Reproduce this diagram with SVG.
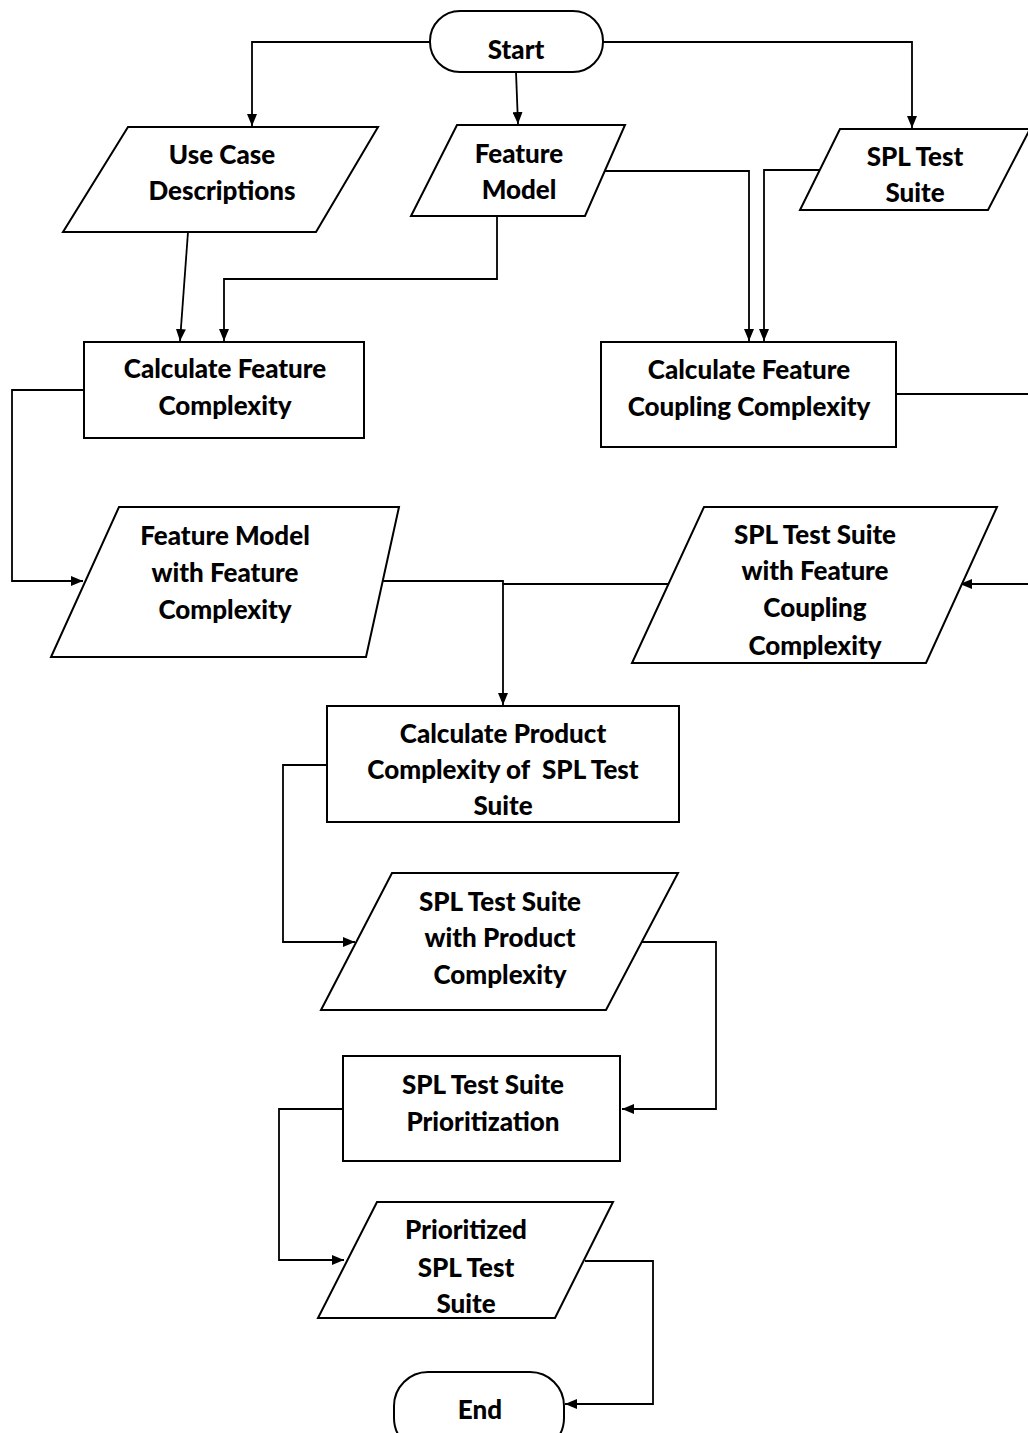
<svg xmlns="http://www.w3.org/2000/svg" width="1028" height="1433" viewBox="0 0 1028 1433">
  <style>
    .shape { fill: #ffffff; stroke: #000000; stroke-width: 2; }
    .conn { fill: none; stroke: #000000; stroke-width: 1.8; }
    .label { font-family: Lato, "Open Sans", "Liberation Sans", sans-serif; font-weight: 900; font-size: 26px; fill: #000000; text-anchor: middle; }
  </style>
  <defs>
    <marker id="arrow" viewBox="0 0 12 10" refX="12" refY="5" markerWidth="12" markerHeight="10" markerUnits="userSpaceOnUse" orient="auto">
      <path d="M0,0 L12,5 L0,10 Z" fill="#000000"/>
    </marker>
  </defs>
  <rect width="1028" height="1433" fill="#ffffff"/>

  <!-- connectors -->
  <g id="connectors">
    <polyline class="conn" points="430,42 252,42 252,126" marker-end="url(#arrow)"/>
    <polyline class="conn" points="603,42 912,42 912,128" marker-end="url(#arrow)"/>
    <polyline class="conn" points="516,72 518,124" marker-end="url(#arrow)"/>
    <polyline class="conn" points="188,232 180,341" marker-end="url(#arrow)"/>
    <polyline class="conn" points="497,216 497,279 224,279 224,341" marker-end="url(#arrow)"/>
    <polyline class="conn" points="598,171 749,171 749,341" marker-end="url(#arrow)"/>
    <polyline class="conn" points="820,170 764,170 764,341" marker-end="url(#arrow)"/>
    <polyline class="conn" points="84,390 12,390 12,581 83,581" marker-end="url(#arrow)"/>
    <polyline class="conn" points="896,394 1032,394 1032,584 960,584" marker-end="url(#arrow)"/>
    <polyline class="conn" points="366,581 503,581 503,705" marker-end="url(#arrow)"/>
    <polyline class="conn" points="668,584 503,584"/>
    <polyline class="conn" points="327,765 283,765 283,942 355,942" marker-end="url(#arrow)"/>
    <polyline class="conn" points="642,942 716,942 716,1109 622,1109" marker-end="url(#arrow)"/>
    <polyline class="conn" points="343,1109 279,1109 279,1260 344,1260" marker-end="url(#arrow)"/>
    <polyline class="conn" points="585,1261 653,1261 653,1404 565,1404" marker-end="url(#arrow)"/>
  </g>

  <g id="start">
    <rect class="shape" x="430" y="11" width="173" height="61" rx="30" ry="30"/>
    <text class="label" x="516" y="59">Start</text>
  </g>

  <g id="use-case-descriptions">
    <polygon class="shape" points="128,127 378,127 316,232 63,232"/>
    <text class="label" x="222" y="164">Use Case</text>
    <text class="label" x="222" y="200">Descriptions</text>
  </g>

  <g id="feature-model">
    <polygon class="shape" points="457,125 625,125 585,216 411,216"/>
    <text class="label" x="519" y="163">Feature</text>
    <text class="label" x="519" y="199">Model</text>
  </g>

  <g id="spl-test-suite">
    <polygon class="shape" points="840,129 1030,129 988,210 800,210"/>
    <text class="label" x="915" y="166">SPL Test</text>
    <text class="label" x="915" y="202">Suite</text>
  </g>

  <g id="calc-feature-complexity">
    <rect class="shape" x="84" y="342" width="280" height="96"/>
    <text class="label" x="225" y="378">Calculate Feature</text>
    <text class="label" x="225" y="415">Complexity</text>
  </g>

  <g id="calc-feature-coupling-complexity">
    <rect class="shape" x="601" y="342" width="295" height="105"/>
    <text class="label" x="749" y="379">Calculate Feature</text>
    <text class="label" x="749" y="416">Coupling Complexity</text>
  </g>

  <g id="feature-model-with-complexity">
    <polygon class="shape" points="119,507 399,507 366,657 51,657"/>
    <text class="label" x="225" y="545">Feature Model</text>
    <text class="label" x="225" y="582">with Feature</text>
    <text class="label" x="225" y="619">Complexity</text>
  </g>

  <g id="suite-with-coupling-complexity">
    <polygon class="shape" points="704,507 997,507 926,663 632,663"/>
    <text class="label" x="815" y="544">SPL Test Suite</text>
    <text class="label" x="815" y="580">with Feature</text>
    <text class="label" x="815" y="617">Coupling</text>
    <text class="label" x="815" y="655">Complexity</text>
  </g>

  <g id="calc-product-complexity">
    <rect class="shape" x="327" y="706" width="352" height="116"/>
    <text class="label" x="503" y="743">Calculate Product</text>
    <text class="label" x="503" y="779" xml:space="preserve">Complexity of  SPL Test</text>
    <text class="label" x="503" y="815">Suite</text>
  </g>

  <g id="suite-with-product-complexity">
    <polygon class="shape" points="392,873 678,873 606,1010 321,1010"/>
    <text class="label" x="500" y="911">SPL Test Suite</text>
    <text class="label" x="500" y="947">with Product</text>
    <text class="label" x="500" y="984">Complexity</text>
  </g>

  <g id="suite-prioritization">
    <rect class="shape" x="343" y="1056" width="277" height="105"/>
    <text class="label" x="483" y="1094">SPL Test Suite</text>
    <text class="label" x="483" y="1131">Prioritization</text>
  </g>

  <g id="prioritized-suite">
    <polygon class="shape" points="377,1202 613,1202 555,1318 318,1318"/>
    <text class="label" x="466" y="1239">Prioritized</text>
    <text class="label" x="466" y="1277">SPL Test</text>
    <text class="label" x="466" y="1313">Suite</text>
  </g>

  <g id="end">
    <rect class="shape" x="394" y="1372" width="170" height="80" rx="34" ry="34"/>
    <text class="label" x="480" y="1419">End</text>
  </g>
</svg>
